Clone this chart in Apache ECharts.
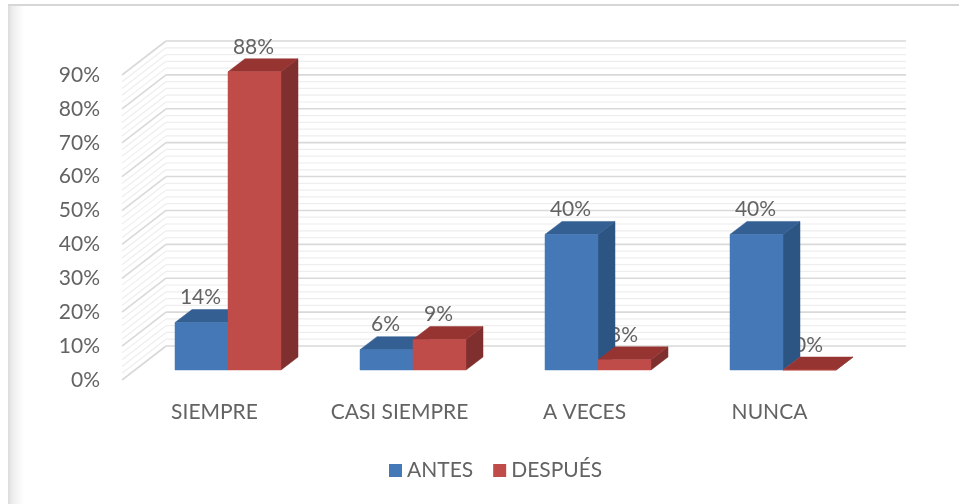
<!DOCTYPE html>
<html>
<head>
<meta charset="utf-8">
<style>html,body{margin:0;padding:0;background:#fff}#c{width:959px;height:504px}</style>
<script src="https://cdn.jsdelivr.net/npm/echarts@6/dist/echarts.min.js"></script>
</head>
<body>
<div id="c"></div>
<script>
const categories = ['SIEMPRE', 'CASI SIEMPRE', 'A VECES', 'NUNCA'];
const antes = [14, 6, 40, 40];
const despues = [88, 9, 3, 0];
const gridTicks = [0,2,4,6,8,10,12,14,16,18,20,22,24,26,28,30,32,34,36,38,40,42,44,46,48,50,52,54,56,58,60,62,64,66,68,70,72,74,76,78,80,82,84,86,88,90];

const FONT = 'Lato, sans-serif';
const FS = 21;
const TEXT = '#636363';
const BACK = [44, -34];      // back wall offset from the front plane
const PLANE = [13.5, -10];   // bar front face offset from the front plane
const DEPTH = [17, -13];     // bar depth
const BAR_W = 53;

const chart = echarts.init(document.getElementById('c'), null, {renderer: 'canvas'});

function wallItem(params, api) {
  const v = api.value(0);
  const p = api.coord([0, v]);
  const cs = params.coordSys;
  const x0 = cs.x, x1 = cs.x + cs.width;
  const major = v % 10 === 0;
  const stroke = {stroke: major ? '#d9d9d9' : '#eeeeee', lineWidth: major ? 1.6 : 1.2};
  return {
    type: 'group', silent: true,
    children: [
      {type: 'line', shape: {x1: x0, y1: p[1], x2: x0 + BACK[0], y2: p[1] + BACK[1]}, style: stroke},
      {type: 'line', shape: {x1: x0 + BACK[0], y1: p[1] + BACK[1], x2: x1 + BACK[0], y2: p[1] + BACK[1]}, style: stroke}
    ]
  };
}

function poly(points, fill) {
  return {type: 'polygon', shape: {points}, style: {fill, stroke: fill, lineWidth: 0.5}};
}

function barItem(side, colors) {
  return function (params, api) {
    const base = api.coord([api.value(0), 0]);
    const top = api.coord([api.value(0), api.value(1)]);
    const xl = base[0] + PLANE[0] + (side < 0 ? -BAR_W : 0);
    const xr = xl + BAR_W;
    const yb = base[1] + PLANE[1];
    const yt = top[1] + PLANE[1];
    const dx = DEPTH[0], dy = DEPTH[1];
    return {
      type: 'group',
      children: [
        poly([[xr, yb], [xr + dx, yb + dy], [xr + dx, yt + dy], [xr, yt]], colors.side),
        poly([[xl, yt], [xl + dx, yt + dy], [xr + dx, yt + dy], [xr, yt]], colors.top),
        poly([[xl, yb], [xr, yb], [xr, yt], [xl, yt]], colors.front)
      ]
    };
  };
}

function labelItem(side) {
  return function (params, api) {
    const top = api.coord([api.value(0), api.value(1)]);
    return {
      type: 'text', silent: true,
      style: {
        x: top[0] + PLANE[0] + side * BAR_W / 2 - 1,
        y: top[1] + PLANE[1] - 25,
        text: api.value(1) + '%',
        fill: TEXT, font: FS + 'px ' + FONT,
        align: 'center', verticalAlign: 'middle'
      }
    };
  };
}

const BLUE = {front: '#4578b6', side: '#2d5583', top: '#335f92'};
const RED = {front: '#c04c49', side: '#7f2f2d', top: '#963432'};
const toPairs = arr => arr.map((v, i) => [i, v]);

chart.setOption({
  animation: false,
  backgroundColor: '#fff',
  textStyle: {fontFamily: FONT},
  grid: {left: 122, top: 75, width: 740, height: 305, containLabel: false},
  legend: {
    data: [
      {name: 'ANTES', icon: 'rect', itemStyle: {color: BLUE.front}},
      {name: 'DESPUÉS', icon: 'rect', itemStyle: {color: RED.front}}
    ],
    left: 384, top: 455, itemWidth: 13, itemHeight: 13, itemGap: 20,
    textStyle: {color: TEXT, fontSize: FS, fontFamily: FONT}
  },
  xAxis: {
    type: 'category', data: categories,
    axisLine: {show: false}, axisTick: {show: false}, splitLine: {show: false},
    axisLabel: {color: TEXT, fontSize: FS, fontFamily: FONT, margin: 22}
  },
  yAxis: {
    type: 'value', min: 0, max: 90, interval: 10,
    axisLine: {show: false}, axisTick: {show: false}, splitLine: {show: false},
    axisLabel: {color: TEXT, fontSize: FS, fontFamily: FONT, margin: 22, padding: [3, 0, 0, 0], formatter: '{value}%'}
  },
  graphic: [
    {type: 'rect', silent: true, shape: {x: 8, y: 5, width: 16, height: 499},
      style: {fill: new echarts.graphic.LinearGradient(0, 0, 1, 0, [
        {offset: 0, color: '#dcdcdc'}, {offset: 0.3, color: '#eeeeee'}, {offset: 1, color: '#ffffff'}
      ])}},
    {type: 'line', silent: true, shape: {x1: 8, y1: 5, x2: 959, y2: 5}, style: {stroke: '#d6d6d6', lineWidth: 2}}
  ],
  series: [
    {type: 'custom', name: 'pared', coordinateSystem: 'cartesian2d', z: 1, silent: true, clip: false,
      data: gridTicks.map(v => [v]), encode: {y: 0}, renderItem: wallItem},
    {type: 'custom', name: 'etiquetas1', coordinateSystem: 'cartesian2d', z: 2, silent: true, clip: false,
      data: toPairs(antes), renderItem: labelItem(-1)},
    {type: 'custom', name: 'etiquetas2', coordinateSystem: 'cartesian2d', z: 2, silent: true, clip: false,
      data: toPairs(despues), renderItem: labelItem(1)},
    {type: 'custom', name: 'ANTES', coordinateSystem: 'cartesian2d', z: 3, clip: false,
      itemStyle: {color: BLUE.front}, data: toPairs(antes), renderItem: barItem(-1, BLUE)},
    {type: 'custom', name: 'DESPUÉS', coordinateSystem: 'cartesian2d', z: 4, clip: false,
      itemStyle: {color: RED.front}, data: toPairs(despues), renderItem: barItem(1, RED)}
  ]
});
</script>
</body>
</html>
